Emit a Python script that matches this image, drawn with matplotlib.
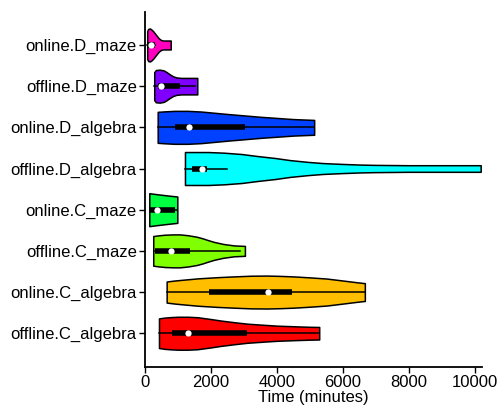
import numpy as np
import matplotlib
matplotlib.use('Agg')
import matplotlib.pyplot as plt

plt.rcParams['font.family'] = ['Liberation Sans', 'DejaVu Sans']

# groups, bottom to top
groups = ['offline.C_algebra', 'online.C_algebra', 'offline.C_maze', 'online.C_maze',
          'offline.D_algebra', 'online.D_algebra', 'offline.D_maze', 'online.D_maze']
colors = ['#FF0000', '#FFBF00', '#80FF00', '#00FF40', '#00FFFF', '#0040FF', '#8000FF', '#FF00BF']

# violin outlines: time (minutes) and relative density width
dens_t = [
    [424, 600, 800, 1000, 1300, 1600, 2000, 2300, 2700, 3100, 3535, 4000, 4545, 5000, 5283],
    [657, 900, 1162, 1600, 2172, 2700, 3200, 3700, 4100, 4495, 5000, 5505, 6000, 6400, 6667],
    [250, 400, 600, 850, 1060, 1300, 1566, 1750, 1900, 2100, 2373, 2700, 3030],
    [130, 400, 700, 980],
    [1212, 1919, 2400, 2929, 3400, 3939, 4400, 4949, 5400, 5960, 6500, 6970, 7500, 7980, 10180],
    [385, 600, 900, 1300, 1700, 2020, 2500, 3030, 3500, 4000, 4500, 5130],
    [280, 330, 450, 575, 650, 750, 850, 950, 1100, 1585],
    [67, 100, 150, 200, 250, 300, 360, 420, 480, 540, 780],
]
dens_w = [
    [0.90, 0.95, 0.98, 1.00, 1.00, 0.97, 0.86, 0.77, 0.67, 0.58, 0.52, 0.46, 0.42, 0.39, 0.38],
    [0.64, 0.70, 0.75, 0.83, 0.90, 0.95, 0.99, 1.00, 0.98, 0.95, 0.89, 0.82, 0.70, 0.60, 0.54],
    [0.90, 0.94, 0.98, 1.00, 1.00, 0.95, 0.86, 0.76, 0.66, 0.54, 0.42, 0.33, 0.30],
    [1.00, 0.93, 0.86, 0.80],
    [1.00, 1.00, 0.96, 0.88, 0.76, 0.64, 0.51, 0.40, 0.33, 0.28, 0.24, 0.22, 0.21, 0.20, 0.20],
    [0.94, 0.97, 1.00, 1.00, 0.96, 0.90, 0.81, 0.72, 0.64, 0.57, 0.50, 0.45],
    [0.85, 0.98, 1.00, 0.95, 0.86, 0.72, 0.60, 0.53, 0.50, 0.50],
    [0.85, 0.98, 1.00, 0.93, 0.83, 0.70, 0.55, 0.40, 0.31, 0.27, 0.27],
]

# box summaries: whisker low, q1, median, q3, whisker high
wlo = [424, 657, 303, 150, 1210, 390, 280, 67]
q1 = [808, 1950, 303, 150, 1434, 910, 400, 100]
med = [1293, 3720, 788, 373, 1717, 1330, 495, 170]
q3 = [3081, 4444, 1364, 910, 1869, 3030, 1060, 300]
whi = [5283, 6667, 2879, 980, 2475, 5130, 1520, 300]

fig = plt.figure(figsize=(5, 4.08), dpi=100)
ax = fig.add_axes([0.29, 0.1005, 0.674, 0.870])

half = 0.4  # max half width of a violin
for i in range(len(groups)):
    t = np.array(dens_t[i])
    w = np.array(dens_w[i]) * half
    ax.fill_between(t, i - w, i + w, facecolor=colors[i], edgecolor='black',
                    linewidth=1.1, joinstyle='round', zorder=2)
    ax.plot([wlo[i], whi[i]], [i, i], color='black', linewidth=1.1, zorder=3)
    ax.plot([q1[i], q3[i]], [i, i], color='black', linewidth=4, solid_capstyle='butt', zorder=3)
    ax.plot(med[i], i, 'o', color='white', markersize=4.5, markeredgewidth=0, zorder=4)

ax.set_xlim(0, 10220)
ax.set_ylim(-0.82, 7.8)
ax.set_xticks([0, 2000, 4000, 6000, 8000, 10000])
ax.set_yticks(range(len(groups)))
ax.set_yticklabels(groups)
ax.set_xlabel('Time (minutes)', fontsize=12, labelpad=0)
ax.tick_params(axis='both', labelsize=12, length=4, width=1, color='black', pad=2)

for s in ['top', 'right']:
    ax.spines[s].set_visible(False)
for s in ['left', 'bottom']:
    ax.spines[s].set_linewidth(1.3)

fig.savefig('out.png', dpi=100)
